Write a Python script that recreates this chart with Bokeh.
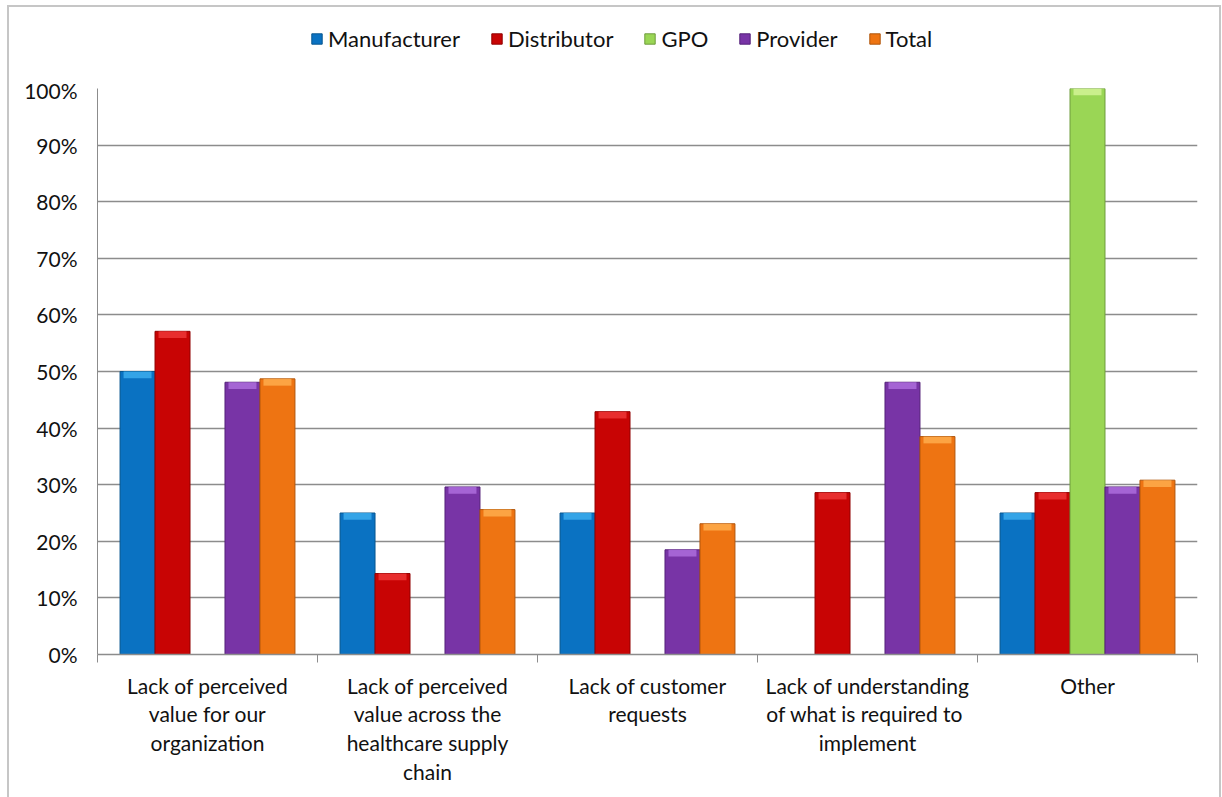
from bokeh.plotting import figure
from bokeh.layouts import column
from bokeh.models import (ColumnDataSource, Range1d, FixedTicker, NumeralTickFormatter,
                          Legend, LegendItem, CDSView, BooleanFilter)
from bokeh.embed import file_html
from bokeh.resources import INLINE

categories = [
    "Lack of perceived\nvalue for our\norganization",
    "Lack of perceived\nvalue across the\nhealthcare supply\nchain",
    "Lack of customer\nrequests",
    "Lack of understanding\nof what  is required to\nimplement",
    "Other",
]
series = ["Manufacturer", "Distributor", "GPO", "Provider", "Total"]
manufacturer = [0.50, 0.25, 0.25, 0.0, 0.25]
distributor = [0.571, 0.143, 0.429, 0.286, 0.286]
gpo = [0.0, 0.0, 0.0, 0.0, 1.0]
provider = [0.481, 0.296, 0.185, 0.481, 0.296]
total = [0.487, 0.256, 0.231, 0.385, 0.308]
y_ticks = [0, 0.1, 0.2, 0.3, 0.4, 0.5, 0.6, 0.7, 0.8, 0.9, 1.0]

values = [manufacturer, distributor, gpo, provider, total]
fills = ["#0a72c2", "#c80404", "#9ad655", "#7834a6", "#ee7412"]
edges = ["#07568f", "#900000", "#6e9c3c", "#55227a", "#b0560c"]
tops = ["#3fb0f0", "#f03a3a", "#d6f59a", "#b070e0", "#ffb050"]

FONT = "Lato"
TXT = "#111111"

centers = [i + 0.5 for i in range(len(categories))]
bounds = [float(i) for i in range(len(categories) + 1)]
bw = 0.159

sources = []
views = []
for k, vals in enumerate(values):
    xs = [c + (k - 2) * bw for c in centers]
    sources.append(ColumnDataSource(dict(x=xs, top=vals, cap=[max(v - 0.012, 0) for v in vals])))
    views.append(BooleanFilter([v > 0 for v in vals]))

# ---------------- legend strip ----------------
# same data, but the strip's y range lies above every bar, so only the legend shows
lf = figure(width=1210, height=70, x_range=Range1d(0, 5), y_range=Range1d(5, 6),
            output_backend="svg", toolbar_location=None,
            min_border_left=0, min_border_right=0, min_border_top=0, min_border_bottom=0)
lf.axis.visible = False
lf.grid.grid_line_color = None
lf.outline_line_color = None
lf.border_fill_color = "white"
items = []
for k, name in enumerate(series):
    r = lf.vbar(x="x", top="top", bottom=0, width=bw, source=sources[k],
                fill_color=fills[k], line_color=edges[k])
    items.append(LegendItem(label=name, renderers=[r]))
legend = Legend(items=items, orientation="horizontal", location=(213, 25),
                label_text_font=FONT, label_text_font_size="22px",
                label_text_color=TXT, glyph_width=13, glyph_height=13,
                spacing=30, label_standoff=5, border_line_color=None,
                background_fill_alpha=0, padding=0, margin=0)
lf.add_layout(legend, "center")

# ---------------- main chart ----------------
p = figure(width=1210, height=722, x_range=Range1d(0, 5), y_range=Range1d(0, 1),
           output_backend="svg", toolbar_location=None,
           min_border_left=88, min_border_right=22, min_border_top=11, min_border_bottom=145)
p.outline_line_color = None
p.background_fill_color = "white"
p.border_fill_color = "white"

p.xgrid.grid_line_color = None
p.ygrid.grid_line_color = "#8c8c8c"
p.ygrid.grid_line_width = 1.3
p.ygrid.ticker = FixedTicker(ticks=y_ticks)

p.yaxis.ticker = FixedTicker(ticks=y_ticks)
p.yaxis.formatter = NumeralTickFormatter(format="0%")
p.yaxis.axis_line_color = "#8c8c8c"
p.yaxis.major_tick_in = 0
p.yaxis.major_tick_out = 0
p.yaxis.minor_tick_line_color = None
p.yaxis.major_label_standoff = 20
p.yaxis.major_label_text_font = FONT
p.yaxis.major_label_text_font_size = "21px"
p.yaxis.major_label_text_color = TXT

p.xaxis.ticker = FixedTicker(ticks=centers, minor_ticks=bounds)
p.xaxis.major_label_overrides = {c: lab for c, lab in zip(centers, categories)}
p.xaxis.axis_line_color = "#8c8c8c"
p.xaxis.axis_line_width = 1.3
p.xaxis.major_tick_line_color = None
p.xaxis.minor_tick_line_color = "#8c8c8c"
p.xaxis.minor_tick_out = 8
p.xaxis.minor_tick_in = 0
p.xaxis.major_label_standoff = 10
p.xaxis.major_label_text_font = FONT
p.xaxis.major_label_text_font_size = "21px"
p.xaxis.major_label_text_color = TXT
p.xaxis.major_label_text_line_height = 1.15

for k in range(len(series)):
    view = CDSView(filter=views[k])
    p.vbar(x="x", top="top", bottom=0, width=bw, source=sources[k], view=view,
           fill_color=fills[k], line_color=edges[k], line_width=1)
    p.vbar(x="x", top="top", bottom="cap", width=bw * 0.8, source=sources[k], view=view,
           fill_color=tops[k], line_color=None, fill_alpha=0.8)

layout = column(lf, p, spacing=0)
layout.margin = (5, 0, 0, 7)
layout.styles = {"border": "2px solid #c6c6c6", "background-color": "white"}

open("out.html", "w").write(file_html(layout, INLINE))
